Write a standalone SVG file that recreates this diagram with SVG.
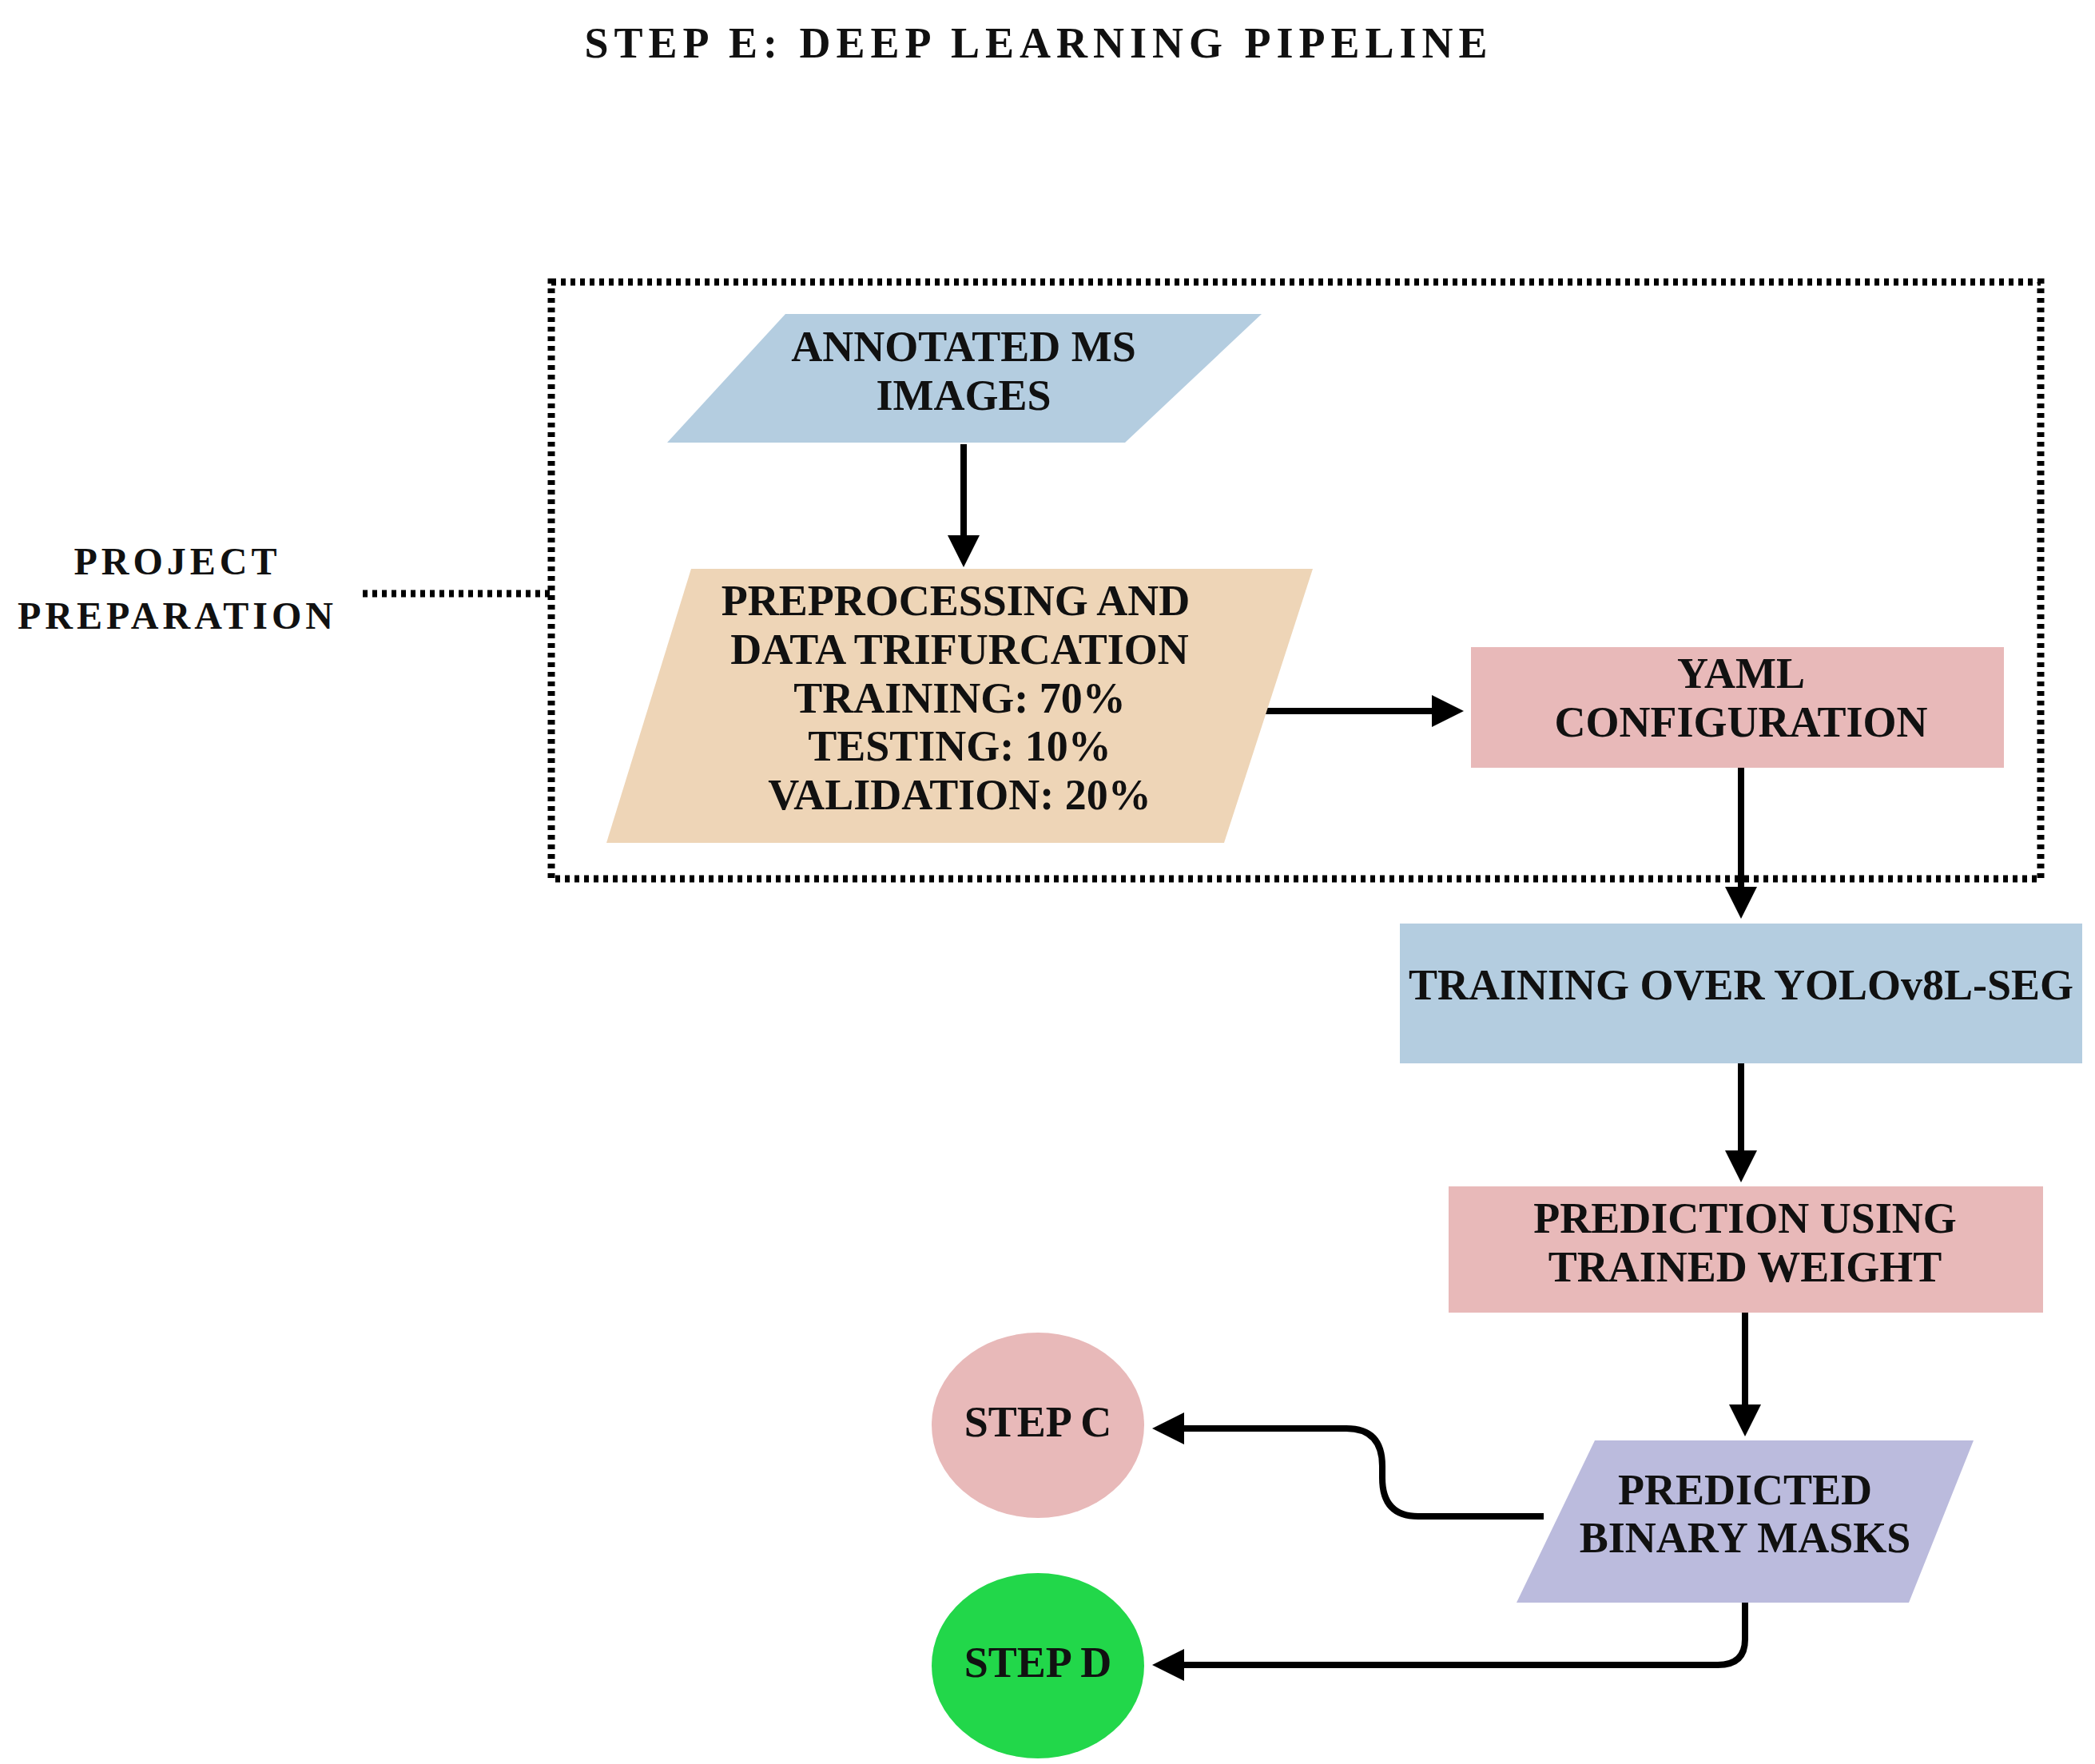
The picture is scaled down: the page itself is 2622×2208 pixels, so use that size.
<svg xmlns="http://www.w3.org/2000/svg" width="2622" height="2208" viewBox="0 0 2622 2208">
<style>
text{font-family:"Liberation Serif","Times New Roman",serif;font-weight:bold;fill:#111;text-anchor:middle;dominant-baseline:central}
.t{font-size:54px}
.c{fill:none;stroke:#000;stroke-width:8;stroke-linejoin:round}
.d{fill:none;stroke:#000;stroke-width:9;stroke-dasharray:6 6}
</style>
<defs>
<marker id="a" viewBox="0 0 10 10" refX="8" refY="5" markerWidth="5" markerHeight="5" orient="auto" markerUnits="strokeWidth"><path d="M0,0 L10,5 L0,10 z" fill="#000"/></marker>
</defs>
<rect width="2622" height="2208" fill="#fff"/>
<text x="1300" y="54" style="font-size:54px;letter-spacing:7px">STEP E: DEEP LEARNING PIPELINE</text>
<g id="group">
<rect class="d" x="690" y="353" width="1864" height="747"/>
<text x="222" y="702" style="font-size:48px;letter-spacing:5px">PROJECT</text>
<text x="222" y="770" style="font-size:48px;letter-spacing:5px">PREPARATION</text>
<line class="d" x1="454" y1="743" x2="690" y2="743"/>
</g>
<g id="connectors">
<line class="c" x1="1206" y1="556" x2="1206" y2="702" marker-end="url(#a)"/>
<line class="c" x1="1583" y1="890" x2="1824" y2="890" marker-end="url(#a)"/>
<line class="c" x1="2179" y1="961" x2="2179" y2="1142" marker-end="url(#a)"/>
<line class="c" x1="2179" y1="1331" x2="2179" y2="1472" marker-end="url(#a)"/>
<line class="c" x1="2184" y1="1643" x2="2184" y2="1790" marker-end="url(#a)"/>
<path class="c" d="M1932,1898 H1775 Q1730,1898 1730,1850 V1835 Q1730,1788 1685,1788 H1450" marker-end="url(#a)"/>
<path class="c" d="M2184,2006 V2052 Q2184,2084 2150,2084 H1450" marker-end="url(#a)"/>
</g>
<g id="annotated">
<polygon points="835,554 983,393 1579,393 1408,554" fill="#b4cde0"/>
<text class="t" x="1206" y="434">ANNOTATED MS</text>
<text class="t" x="1206" y="495">IMAGES</text>
</g>
<g id="preprocessing">
<polygon points="759,1055 865,712 1643,712 1532,1055" fill="#eed5b7"/>
<text class="t" x="1196" y="752">PREPROCESSING AND</text>
<text class="t" x="1201" y="813">DATA TRIFURCATION</text>
<text class="t" x="1201" y="874">TRAINING: 70%</text>
<text class="t" x="1201" y="934">TESTING: 10%</text>
<text class="t" x="1201" y="995">VALIDATION: 20%</text>
</g>
<g id="yaml">
<rect x="1841" y="810" width="667" height="151" fill="#e8b9b9"/>
<text class="t" x="2179" y="843">YAML</text>
<text class="t" x="2179" y="904">CONFIGURATION</text>
</g>
<g id="training">
<rect x="1752" y="1156" width="854" height="175" fill="#b4cde0"/>
<text class="t" x="2179" y="1233">TRAINING OVER YOLOv8L-SEG</text>
</g>
<g id="prediction">
<rect x="1813" y="1485" width="744" height="158" fill="#e8b9b9"/>
<text class="t" x="2184" y="1525">PREDICTION USING</text>
<text class="t" x="2184" y="1586">TRAINED WEIGHT</text>
</g>
<g id="masks">
<polygon points="1898,2006 1996,1803 2470,1803 2389,2006" fill="#bbbbdd"/>
<text class="t" x="2184" y="1865">PREDICTED</text>
<text class="t" x="2184" y="1925">BINARY MASKS</text>
</g>
<g id="stepc">
<ellipse cx="1299" cy="1784" rx="133" ry="116" fill="#e8b9b9"/>
<text class="t" x="1299" y="1780">STEP C</text>
</g>
<g id="stepd">
<ellipse cx="1299" cy="2085" rx="133" ry="116" fill="#22d74a"/>
<text class="t" x="1299" y="2081">STEP D</text>
</g>
</svg>
